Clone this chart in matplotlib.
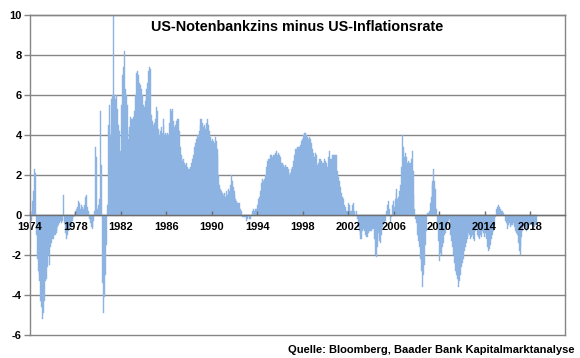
import numpy as np
import matplotlib
matplotlib.use("Agg")
import matplotlib.pyplot as plt

plt.rcParams['font.family'] = ['Liberation Sans', 'DejaVu Sans']
plt.rcParams['axes.unicode_minus'] = False

start_year = 1974

# monthly values: US policy rate minus US inflation rate (percentage points)
rate_1974_1979 = [
    0.2, -0.3, 0.7, 1.2, 2.3, 2.1, -1.0, -2.2, -2.8, -3.0, -3.3, -4.3,   # 1974
    -4.6, -5.2, -4.9, -4.3, -3.3, -3.2, -2.6, -2.0, -2.5, -1.6, -1.4, -1.2,  # 1975
    -1.2, -1.0, -1.0, -0.9, -0.8, -0.6, -0.5, -0.4, -0.3, -0.4, -0.3, 1.0,  # 1976
    -0.4, -0.9, -1.2, -1.0, -0.8, -0.7, -0.6, -0.5, -0.3, -0.1, 0.0, 0.2,  # 1977
    0.1, 0.3, 0.4, 0.7, 0.6, 0.3, 0.5, 0.4, 0.3, 0.5, 0.9, 1.0,  # 1978
    0.4, 0.2, -0.2, -0.4, -0.6, -0.7, -0.6, -0.3, 0.2, 3.4, 2.9, 0.3,  # 1979
]
rate_1980_1989 = [
    0.5, 0.8, 5.2, 2.5, -3.4, -4.9, -4.1, -3.0, -1.5, 0.5, 4.5, 5.5,  # 1980
    4.5, 4.0, 5.8, 6.0, 10.0, 6.0, 5.8, 6.0, 5.3, 4.5, 4.2, 3.2,  # 1981
    5.5, 7.0, 7.4, 8.2, 6.3, 6.0, 5.5, 4.2, 3.8, 4.4, 4.9, 4.8,  # 1982
    4.8, 4.9, 5.2, 6.0, 7.1, 7.2, 7.0, 6.6, 6.5, 6.3, 6.0, 5.5,  # 1983
    5.4, 5.7, 5.9, 6.3, 6.6, 7.2, 7.4, 7.3, 5.0, 4.7, 4.5, 4.6,  # 1984
    4.8, 5.4, 5.2, 4.3, 4.0, 4.2, 4.4, 4.1, 4.8, 4.5, 4.0, 4.1,  # 1985
    4.0, 4.1, 4.0, 4.6, 5.3, 5.2, 5.3, 4.7, 4.4, 4.5, 4.7, 4.8,  # 1986
    4.8, 4.2, 3.4, 3.0, 2.8, 2.7, 2.8, 2.6, 2.5, 2.6, 2.4, 2.3,  # 1987
    2.3, 2.4, 2.6, 2.8, 3.0, 3.4, 3.6, 3.8, 4.0, 3.9, 4.2, 4.5,  # 1988
    4.8, 4.8, 4.6, 4.4, 4.5, 4.3, 4.6, 4.8, 4.5, 4.2, 3.9, 3.7,  # 1989
]
rate_1990_1999 = [
    3.8, 3.7, 3.6, 3.9, 3.7, 3.3, 3.0, 2.0, 1.5, 1.3, 1.2, 1.1,  # 1990
    1.0, 1.1, 0.9, 1.2, 1.0, 1.3, 1.2, 1.5, 2.0, 1.7, 1.4, 1.2,  # 1991
    1.0, 0.8, 0.7, 0.6, 0.6, 0.6, 0.3, 0.2, -0.1, -0.1, -0.1, -0.1,  # 1992
    -0.3, -0.2, 0.0, -0.2, -0.2, 0.0, 0.2, 0.1, 0.3, 0.2, 0.3, 0.3,  # 1993
    0.5, 0.8, 0.9, 1.2, 1.6, 1.8, 1.7, 1.8, 2.0, 2.4, 2.7, 2.8,  # 1994
    2.8, 3.0, 3.0, 3.0, 2.9, 3.0, 3.0, 3.1, 3.2, 3.0, 3.1, 3.0,  # 1995
    2.9, 2.6, 2.6, 2.5, 2.4, 2.5, 2.4, 2.4, 2.3, 2.2, 2.0, 2.1,  # 1996
    2.3, 2.4, 2.7, 3.0, 3.3, 3.3, 3.4, 3.4, 3.4, 3.5, 3.7, 3.8,  # 1997
    4.0, 4.1, 4.1, 4.0, 3.8, 3.9, 3.8, 3.9, 3.8, 3.6, 3.3, 3.1,  # 1998
    2.9, 3.1, 3.0, 2.5, 2.6, 2.8, 2.8, 2.7, 2.6, 2.6, 2.8, 2.6,  # 1999
]
rate_2000_2009 = [
    2.7, 2.6, 2.4, 2.9, 3.2, 2.8, 2.8, 3.0, 3.0, 3.0, 3.0, 3.0,  # 2000
    2.2, 1.9, 1.7, 1.4, 1.1, 0.9, 0.9, 0.8, 0.5, 0.4, 0.2, 0.2,  # 2001
    0.6, 0.5, 0.2, 0.2, 0.5, 0.6, 0.2, 0.0, 0.2, -0.2, -0.6, -0.8,  # 2002
    -1.0, -1.2, -1.2, -0.8, -0.7, -0.8, -1.0, -1.1, -1.1, -0.9, -0.8, -0.8,  # 2003
    -0.8, -0.7, -0.7, -1.2, -2.0, -2.1, -1.6, -1.2, -0.9, -1.3, -1.4, -1.0,  # 2004
    -0.6, -0.5, -0.4, -0.3, 0.2, 0.5, 0.7, 0.3, -0.4, -0.1, 0.5, 0.7,  # 2005
    0.4, 0.8, 1.1, 1.3, 0.8, 0.9, 1.2, 1.5, 2.4, 4.0, 3.4, 2.9,  # 2006
    3.1, 2.9, 2.6, 2.7, 2.6, 2.6, 2.8, 3.2, 2.2, 1.0, 0.3, -0.2,  # 2007
    -0.4, -1.0, -1.3, -1.6, -2.2, -2.8, -3.6, -3.0, -2.5, -1.5, -0.8, 0.1,  # 2008
    0.1, 0.2, 0.6, 0.9, 1.5, 1.7, 2.3, 1.7, 1.3, 0.3, -0.5, -1.3,  # 2009
]
rate_2010_2018 = [
    -2.3, -1.9, -2.0, -1.6, -1.4, -1.0, -0.9, -0.7, -0.5, -0.3, -0.2, -0.5,  # 2010
    -1.0, -1.3, -1.6, -2.0, -2.4, -2.8, -3.0, -3.2, -3.6, -3.3, -3.0, -2.6,  # 2011
    -2.4, -2.2, -1.8, -1.6, -1.4, -1.2, -1.1, -0.9, -1.0, -1.2, -1.1, -1.0,  # 2012
    -1.2, -1.3, -0.8, -0.7, -1.0, -1.1, -1.2, -1.0, -1.1, -0.8, -0.9, -1.1,  # 2013
    -1.1, -0.9, -1.2, -1.6, -1.8, -1.7, -1.5, -1.2, -1.0, -0.8, -0.5, -0.1,  # 2014
    0.3, 0.4, 0.5, 0.4, 0.3, 0.2, 0.2, 0.1, 0.1, 0.0, -0.3, -0.4,  # 2015
    -0.7, -0.5, -0.4, -0.6, -0.5, -0.5, -0.4, -0.6, -0.8, -0.9, -1.0, -1.4,  # 2016
    -1.8, -2.0, -1.6, -1.1, -0.8, -0.5, -0.5, -0.6, -0.8, -0.6, -0.7, -0.5,  # 2017
    -0.4, -0.5, -0.5, -0.4, -0.6, -0.5, -0.4,  # 2018
]

y_ticks = [-6, -4, -2, 0, 2, 4, 6, 8, 10]
x_tick_years = [1974, 1978, 1982, 1986, 1990, 1994, 1998, 2002, 2006, 2010, 2014, 2018]
title = "US-Notenbankzins minus US-Inflationsrate"
source = "Quelle: Bloomberg, Baader Bank Kapitalmarktanalyse"

values = np.array(rate_1974_1979 + rate_1980_1989 + rate_1990_1999
                  + rate_2000_2009 + rate_2010_2018)
months = start_year + np.arange(len(values)) / 12.0

W, H = 580, 358
fig = plt.figure(figsize=(W / 100, H / 100), dpi=100)
ax = fig.add_axes([30 / W, 23 / H, 535 / W, 320 / H])

bar_color = '#8DB3E2'
ax.bar(months, values, width=1 / 12, align='edge', color=bar_color,
       edgecolor=bar_color, linewidth=0.3, zorder=1)

grid_color = '#868686'
for yv in y_ticks:
    ax.axhline(yv, color=grid_color, lw=1.0, zorder=0, clip_on=False)

ax.set_xlim(1974, 2021.08)
ax.set_ylim(-6, 10)

for side in ['left', 'right', 'top']:
    ax.spines[side].set_color(grid_color)
    ax.spines[side].set_linewidth(1.0)
ax.spines['bottom'].set_position(('data', 0))
ax.spines['bottom'].set_color('#6E6E6E')
ax.spines['bottom'].set_linewidth(1.0)

ax.set_yticks(y_ticks)
ax.set_yticklabels([str(v) for v in y_ticks], fontsize=8, fontweight='bold')
ax.tick_params(axis='y', direction='out', length=4, width=1, color=grid_color, pad=2)

ax.set_xticks(x_tick_years)
ax.set_xticklabels([str(v) for v in x_tick_years], fontsize=8, fontweight='bold')
ax.tick_params(axis='x', direction='in', length=3, width=1, color='#6E6E6E', pad=5)

fig.text(297.5 / W, 1 - 27 / H, title, ha='center', va='center',
         fontsize=10.4, fontweight='bold')
fig.text(575 / W, 1 - 350 / H, source, ha='right', va='center',
         fontsize=8, fontweight='bold')

fig.savefig('out.png', dpi=100)
